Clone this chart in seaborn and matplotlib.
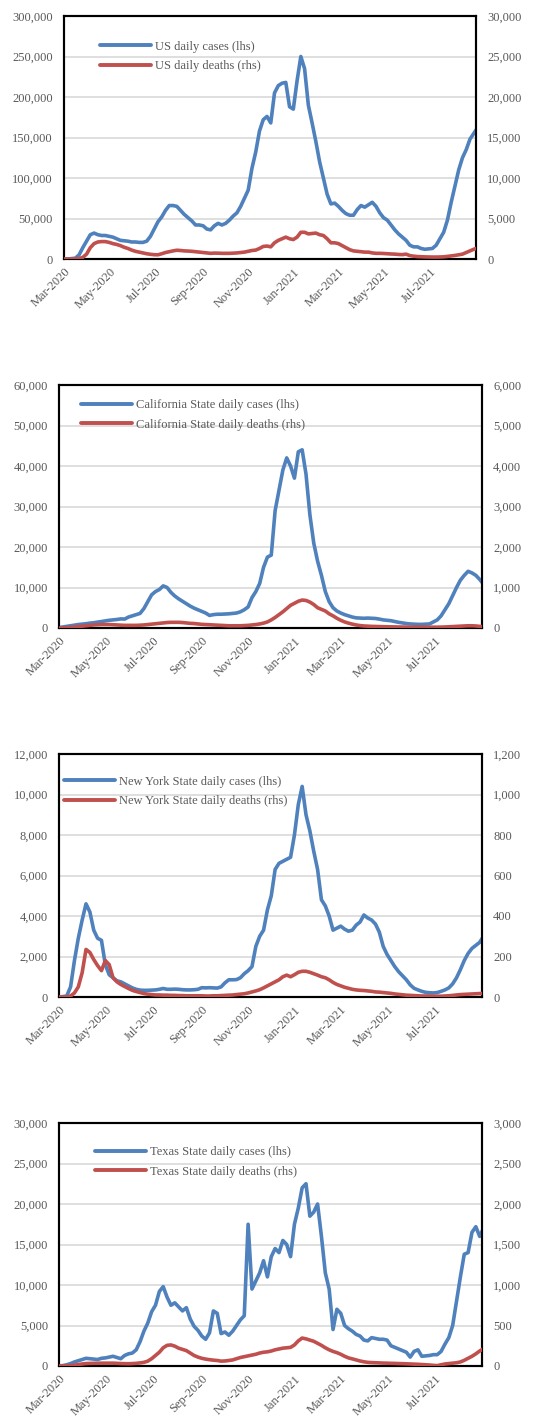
import numpy as np
import pandas as pd
import matplotlib
matplotlib.use("Agg")
import matplotlib.pyplot as plt
import matplotlib.dates as mdates
from matplotlib.ticker import FuncFormatter, MultipleLocator
import seaborn as sns

# Sampling dates: every 5 days from 1 March 2020
DATES = pd.date_range("2020-03-01", periods=111, freq="5D")

US_CASES = [
    0, 0, 500, 1000, 5000, 14000, 22000, 30000, 32000, 30000,
    29000, 29000, 28000, 27000, 25000, 23000, 22500, 22000, 21000, 21000,
    20500, 20500, 22000, 28000, 37000, 46000, 52000, 60000, 66000, 66000,
    65000, 60000, 55000, 51000, 47000, 42000, 42000, 41000, 37000, 36000,
    41000, 44000, 42000, 44000, 48000, 53000, 57000, 65000, 75000, 85000,
    112000, 132000, 158000, 172000, 176000, 168000, 205000, 214000, 217000, 218000,
    188000, 185000, 220000, 250000, 235000, 190000, 168000, 145000, 120000, 100000,
    80000, 68000, 69000, 65000, 60000, 56000, 54000, 54000, 61000, 66000,
    64000, 67000, 70000, 65000, 57000, 51000, 48000, 42000, 36000, 31000,
    27000, 23000, 17000, 15000, 15000, 13000, 12000, 12500, 13000, 17000,
    25000, 33000, 48000, 70000, 90000, 110000, 125000, 135000, 148000, 155000,
    162000,
]
US_DEATHS = [
    0, 0, 0, 0, 50, 200, 600, 1400, 1900, 2100,
    2150, 2150, 2050, 1900, 1800, 1650, 1450, 1300, 1100, 950,
    850, 750, 650, 580, 530, 520, 650, 800, 900, 1000,
    1080, 1050, 1000, 980, 950, 900, 850, 800, 750, 700,
    730, 720, 700, 700, 700, 720, 750, 800, 850, 950,
    1050, 1100, 1300, 1550, 1600, 1500, 2000, 2300, 2500, 2700,
    2500, 2400, 2700, 3300, 3300, 3100, 3150, 3200, 3000, 2900,
    2500, 2000, 2000, 1900, 1650, 1400, 1150, 1000, 950, 900,
    850, 850, 750, 700, 700, 680, 650, 620, 600, 560,
    540, 600, 420, 350, 300, 280, 260, 250, 240, 240,
    250, 270, 320, 380, 440, 520, 600, 800, 1000, 1200,
    1350,
]

CA_CASES = [
    100, 250, 400, 550, 700, 850, 950, 1050, 1200, 1300,
    1450, 1600, 1750, 1900, 2000, 2100, 2250, 2200, 2700, 3000,
    3300, 3600, 4800, 6500, 8200, 9000, 9500, 10400, 10000, 8800,
    7900, 7200, 6600, 6000, 5400, 4900, 4500, 4100, 3700, 3100,
    3300, 3400, 3400, 3450, 3500, 3600, 3700, 4000, 4500, 5200,
    7500, 9000, 11000, 15000, 17500, 18000, 29000, 34000, 39000, 42000,
    40000, 37000, 43500, 44000, 38000, 28000, 21000, 16500, 13000, 9000,
    6500, 5000, 4200, 3700, 3300, 3000, 2700, 2500, 2450, 2400,
    2450, 2400, 2350, 2200, 2000, 1900, 1800, 1600, 1400, 1250,
    1100, 1000, 950, 900, 900, 950, 1000, 1500, 2000, 3000,
    4500, 6000, 8000, 10000, 11800, 13000, 14000, 13600, 13000, 12000,
    10800,
]
CA_DEATHS = [
    0, 0, 5, 15, 25, 35, 45, 55, 65, 75,
    80, 85, 85, 85, 80, 75, 70, 65, 65, 65,
    65, 70, 75, 85, 95, 105, 115, 125, 135, 140,
    140, 140, 135, 125, 115, 110, 100, 90, 85, 80,
    75, 70, 65, 60, 55, 55, 55, 55, 60, 65,
    75, 85, 100, 120, 150, 200, 260, 330, 400, 480,
    560, 610, 660, 690, 680, 640, 580, 500, 460, 420,
    350, 300, 240, 190, 150, 120, 95, 75, 60, 50,
    45, 40, 38, 35, 32, 30, 28, 27, 25, 24,
    22, 22, 21, 20, 20, 20, 20, 20, 20, 22,
    25, 30, 35, 40, 45, 50, 55, 55, 50, 40,
    30,
]

NY_CASES = [
    0, 20, 50, 500, 1800, 2900, 3800, 4600, 4200, 3300,
    2900, 2800, 1600, 1100, 950, 800, 750, 650, 550, 450,
    380, 340, 330, 330, 340, 350, 380, 420, 380, 380,
    390, 380, 360, 350, 350, 360, 380, 460, 450, 460,
    450, 440, 500, 700, 850, 850, 860, 950, 1150, 1300,
    1500, 2500, 3000, 3300, 4300, 5000, 6300, 6600, 6700, 6800,
    6900, 8000, 9500, 10400, 9000, 8200, 7200, 6300, 4800, 4500,
    4000, 3300, 3400, 3500, 3350, 3250, 3300, 3550, 3700, 4050,
    3900, 3800, 3600, 3200, 2500, 2100, 1800, 1500, 1250, 1050,
    850, 600, 430, 350, 280, 230, 210, 200, 220, 280,
    350, 450, 650, 950, 1350, 1800, 2150, 2400, 2550, 2700,
    3000,
]
NY_DEATHS = [
    0, 0, 0, 5, 20, 50, 120, 235, 220, 185,
    155, 130, 180, 160, 95, 75, 62, 52, 42, 33,
    27, 22, 17, 14, 12, 10, 10, 9, 9, 8,
    8, 7, 7, 6, 6, 6, 6, 6, 5, 5,
    6, 6, 7, 8, 9, 10, 12, 14, 16, 20,
    25, 30, 36, 45, 55, 65, 75, 85, 100, 108,
    100, 110, 122, 127, 127, 122, 115, 108, 100, 95,
    85, 72, 62, 55, 48, 43, 38, 35, 33, 32,
    30, 28, 25, 24, 22, 20, 18, 15, 13, 11,
    9, 8, 7, 6, 5, 5, 5, 4, 4, 4,
    5, 6, 8, 10, 12, 13, 14, 15, 16, 17,
    18,
]

TX_CASES = [
    0, 50, 150, 300, 500, 650, 800, 950, 900, 850,
    800, 950, 1000, 1100, 1200, 1050, 900, 1300, 1500, 1600,
    2000, 3000, 4300, 5300, 6700, 7500, 9200, 9800, 8500, 7500,
    7800, 7300, 6800, 7200, 5800, 4900, 4400, 3700, 3300, 4100,
    6800, 6500, 4000, 4200, 3800, 4300, 5000, 5700, 6200, 17500,
    9500, 10500, 11500, 13000, 11000, 13500, 14500, 14000, 15500, 15000,
    13500, 17500, 19500, 22000, 22500, 18500, 19000, 20000, 16000, 11500,
    9500, 4500, 7000, 6500, 5000, 4600, 4300, 3900, 3700, 3200,
    3100, 3500, 3400, 3300, 3300, 3200, 2500, 2300, 2100, 1900,
    1700, 1100, 1800, 2000, 1200, 1250, 1300, 1400, 1400, 1800,
    2700, 3500, 5000, 8000, 11000, 13800, 14000, 16500, 17200, 16000,
    17000,
]
TX_DEATHS = [
    0, 0, 2, 5, 10, 18, 25, 30, 32, 33,
    34, 35, 35, 35, 35, 33, 30, 29, 28, 30,
    33, 38, 45, 60, 90, 130, 170, 225, 255, 260,
    245, 220, 205, 190, 160, 130, 110, 95, 85, 78,
    72, 68, 60, 62, 68, 75, 90, 105, 115, 125,
    135, 145, 160, 170, 175, 185, 200, 210, 220, 225,
    230, 260, 310, 345, 335, 320, 305, 280, 255, 225,
    200, 180, 165, 145, 120, 100, 88, 75, 62, 52,
    45, 42, 40, 38, 36, 35, 33, 32, 30, 29,
    27, 25, 23, 21, 18, 15, 12, 8, 5, 15,
    25, 30, 35, 40, 50, 70, 95, 120, 150, 185,
    215,
]

REGIONS = ["US", "California State", "New York State", "Texas State"]
CASES = [US_CASES, CA_CASES, NY_CASES, TX_CASES]
DEATHS = [US_DEATHS, CA_DEATHS, NY_DEATHS, TX_DEATHS]
LHS_MAX = [300000, 60000, 12000, 30000]
RHS_MAX = [30000, 6000, 1200, 3000]

BLUE = "#4F81BD"
RED = "#C0504D"
GREY_TEXT = "#595959"
GRID = "#D9D9D9"

sns.set_style("white")
plt.rcParams["font.family"] = ["Liberation Serif", "DejaVu Serif"]
plt.rcParams["font.size"] = 9

W, H = 547, 1419
fig = plt.figure(figsize=(W / 100, H / 100), dpi=100)

# axes boxes in pixels: left, top, right, bottom
boxes = [(64, 16, 476, 259), (59, 385, 482, 628), (59, 754, 482, 997), (59, 1123, 482, 1366)]
# legend anchor (axes fraction)
leg_anchor = [(0.087, 0.899), (0.051, 0.942), (0.012, 0.911), (0.085, 0.904)]

fmt = FuncFormatter(lambda v, p: f"{v:,.0f}")
x0 = pd.Timestamp("2020-03-01")
x1 = pd.Timestamp("2021-08-31")

for i, name in enumerate(REGIONS):
    l, t, r, b = boxes[i]
    ax = fig.add_axes([l / W, 1 - b / H, (r - l) / W, (b - t) / H])
    ax2 = ax.twinx()

    df = pd.DataFrame({"date": DATES, "cases": CASES[i], "deaths": DEATHS[i]})
    sns.lineplot(data=df, x="date", y="cases", ax=ax, color=BLUE, linewidth=2.6,
                 legend=False, zorder=3)
    sns.lineplot(data=df, x="date", y="deaths", ax=ax2, color=RED, linewidth=2.6,
                 legend=False, zorder=3)
    for line in ax.get_lines() + ax2.get_lines():
        line.set_solid_capstyle("round")
        line.set_solid_joinstyle("round")

    ax.set_xlim(x0, x1)
    ax.set_ylim(0, LHS_MAX[i])
    ax2.set_ylim(0, RHS_MAX[i])
    ax.yaxis.set_major_locator(MultipleLocator(LHS_MAX[i] / 6))
    ax2.yaxis.set_major_locator(MultipleLocator(RHS_MAX[i] / 6))
    ax.yaxis.set_major_formatter(fmt)
    ax2.yaxis.set_major_formatter(fmt)

    ax.set_axisbelow(True)
    ax.grid(axis="y", color=GRID, linewidth=1.2)
    ax.grid(axis="x", visible=False)
    ax2.grid(False)

    ax.xaxis.set_major_locator(mdates.MonthLocator(bymonth=[1, 3, 5, 7, 9, 11]))
    ax.xaxis.set_major_formatter(mdates.DateFormatter("%b-%Y"))
    ax.tick_params(axis="x", direction="in", length=3.5, width=1.3, color="black",
                   labelcolor=GREY_TEXT, labelsize=9, pad=5)
    for lab in ax.get_xticklabels():
        lab.set_rotation(45)
        lab.set_ha("right")
        lab.set_rotation_mode("anchor")
    ax.tick_params(axis="y", length=0, labelcolor=GREY_TEXT, labelsize=9, pad=8)
    ax2.tick_params(axis="y", length=0, labelcolor=GREY_TEXT, labelsize=9, pad=8)

    ax.set_xlabel("")
    ax.set_ylabel("")
    ax2.set_ylabel("")
    for sp in list(ax.spines.values()) + list(ax2.spines.values()):
        sp.set_color("black")
        sp.set_linewidth(1.5)

    h1 = ax.get_lines()[0]
    h2 = ax2.get_lines()[0]
    leg = ax2.legend([h1, h2],
                     [f"{name} daily cases (lhs)", f"{name} daily deaths (rhs)"],
                     loc="upper left", bbox_to_anchor=leg_anchor[i], frameon=False,
                     borderpad=0, borderaxespad=0, handlelength=4.1,
                     handletextpad=0.3, labelspacing=0.6, fontsize=9)
    for txt in leg.get_texts():
        txt.set_color(GREY_TEXT)
    for lh in leg.get_lines():
        lh.set_linewidth(2.8)

fig.savefig("out.png", dpi=100)
